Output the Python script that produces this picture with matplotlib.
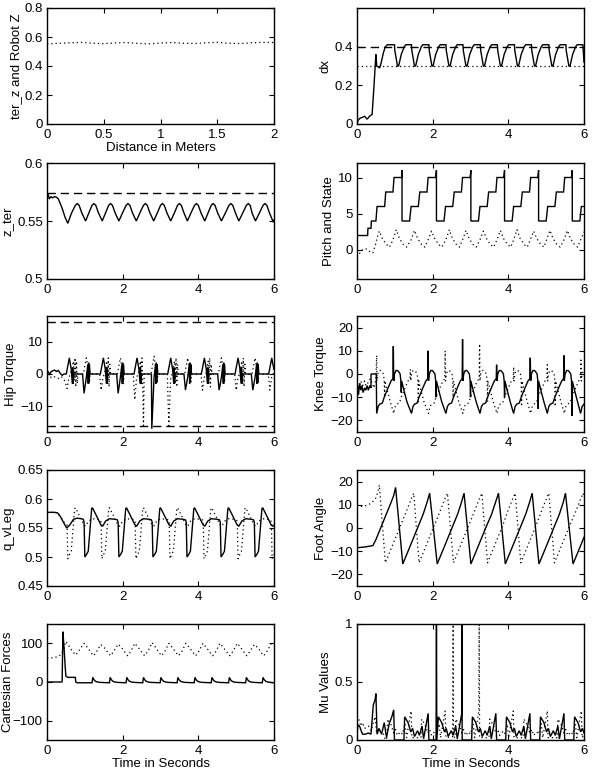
import matplotlib
matplotlib.use('Agg')
import matplotlib.pyplot as plt

plt.rcParams['font.family'] = ['Liberation Sans', 'DejaVu Sans']
plt.rcParams['font.size'] = 9.5

# ---------------- data ----------------
# Panel 1: ter_z and Robot Z vs distance
p1_x = [0.0, 0.1, 0.2, 0.3, 0.4, 0.5, 0.6, 0.7, 0.8, 0.9, 1.0, 1.1, 1.2, 1.3, 1.4, 1.5, 1.6, 1.7, 1.8, 1.9, 2.0]
p1_y = [0.553, 0.556, 0.560, 0.563, 0.557, 0.554, 0.559, 0.562, 0.556, 0.553, 0.558, 0.562, 0.557, 0.555,
        0.560, 0.563, 0.557, 0.555, 0.560, 0.563, 0.562]
p1_xticklabels = ['0', '0.5', '1', '1.5', '2']
p1_yticklabels = ['0', '0.2', '0.4', '0.6', '0.8']

# Panel 2: dx
dx_t = [0.00, 0.03, 0.08, 0.15, 0.20, 0.27, 0.33, 0.40, 0.45, 0.49, 0.50, 0.52, 0.60, 0.63, 0.70, 0.75, 0.80, 0.90,
        0.99, 1.00, 1.07, 1.10, 1.17, 1.25, 1.29,
        1.44, 1.45, 1.52, 1.55, 1.62, 1.70, 1.74,
        1.90, 1.91, 1.98, 2.01, 2.08, 2.16, 2.20,
        2.35, 2.36, 2.43, 2.46, 2.53, 2.61, 2.65,
        2.80, 2.81, 2.88, 2.91, 2.98, 3.06, 3.10,
        3.26, 3.27, 3.34, 3.37, 3.44, 3.52, 3.56,
        3.71, 3.72, 3.79, 3.82, 3.89, 3.97, 4.01,
        4.16, 4.17, 4.24, 4.27, 4.34, 4.42, 4.46,
        4.61, 4.62, 4.69, 4.72, 4.79, 4.87, 4.91,
        5.07, 5.08, 5.15, 5.18, 5.25, 5.33, 5.37,
        5.52, 5.53, 5.60, 5.63, 5.70, 5.78, 5.82,
        5.97, 5.98, 6.00]
dx_v = [0.00, 0.02, 0.03, 0.035, 0.04, 0.025, 0.04, 0.05, 0.20, 0.33, 0.36, 0.30, 0.29, 0.31, 0.37, 0.40, 0.41, 0.41,
        0.41, 0.38, 0.30, 0.30, 0.36, 0.40, 0.41,
        0.41, 0.38, 0.30, 0.30, 0.36, 0.40, 0.41,
        0.41, 0.38, 0.30, 0.30, 0.36, 0.40, 0.41,
        0.41, 0.38, 0.30, 0.30, 0.36, 0.40, 0.41,
        0.41, 0.38, 0.30, 0.30, 0.36, 0.40, 0.41,
        0.41, 0.38, 0.30, 0.30, 0.36, 0.40, 0.41,
        0.41, 0.38, 0.30, 0.30, 0.36, 0.40, 0.41,
        0.41, 0.38, 0.30, 0.30, 0.36, 0.40, 0.41,
        0.41, 0.38, 0.30, 0.30, 0.36, 0.40, 0.41,
        0.41, 0.38, 0.30, 0.30, 0.36, 0.40, 0.41,
        0.41, 0.38, 0.30, 0.30, 0.36, 0.40, 0.41,
        0.41, 0.38, 0.32]
dx_ref_hi = 0.4
dx_ref_lo = 0.3
dx_yticklabels = ['0', '0.2', '0.4']

# Panel 3: z_ter
zt_t = [0.00, 0.03, 0.06, 0.10, 0.15, 0.20, 0.25, 0.30, 0.40, 0.48, 0.55,
        0.65, 0.75, 0.80, 0.85, 0.92, 1.02,
        1.12, 1.19, 1.24, 1.29, 1.36, 1.46,
        1.56, 1.63, 1.68, 1.73, 1.80, 1.90,
        2.01, 2.09, 2.14, 2.19, 2.26, 2.36,
        2.47, 2.55, 2.60, 2.65, 2.72, 2.82,
        2.93, 3.00, 3.05, 3.10, 3.17, 3.27,
        3.38, 3.45, 3.50, 3.55, 3.62, 3.71,
        3.82, 3.90, 3.95, 4.00, 4.07, 4.17,
        4.27, 4.34, 4.39, 4.44, 4.51, 4.61,
        4.73, 4.81, 4.86, 4.91, 4.98, 5.07,
        5.19, 5.27, 5.32, 5.37, 5.42, 5.51,
        5.63, 5.71, 5.76, 5.81, 5.88, 5.98,
        6.00]
zt_v = [0.570, 0.573, 0.569, 0.571, 0.570, 0.571, 0.5705, 0.569, 0.561, 0.553, 0.548,
        0.557, 0.5635, 0.565, 0.5635, 0.557, 0.550,
        0.558, 0.5635, 0.565, 0.5635, 0.557, 0.550,
        0.558, 0.5635, 0.565, 0.5635, 0.557, 0.550,
        0.558, 0.5635, 0.565, 0.5635, 0.557, 0.550,
        0.558, 0.5635, 0.565, 0.5635, 0.557, 0.550,
        0.558, 0.5635, 0.565, 0.5635, 0.557, 0.550,
        0.558, 0.5635, 0.565, 0.5635, 0.557, 0.550,
        0.558, 0.5635, 0.565, 0.5635, 0.557, 0.550,
        0.558, 0.5635, 0.565, 0.5635, 0.557, 0.550,
        0.558, 0.5635, 0.565, 0.5635, 0.557, 0.550,
        0.558, 0.5635, 0.565, 0.5635, 0.557, 0.550,
        0.558, 0.5635, 0.565, 0.5635, 0.557, 0.549,
        0.551]
zt_ref = 0.574
zt_yticklabels = ['0.5', '0.55', '0.6']

# Panel 4: Pitch and State
st_t = [0.00, 0.28, 0.29, 0.37, 0.38, 0.50, 0.53, 0.73, 0.76, 0.95, 0.98, 1.18, 1.19, 1.19,
        1.39, 1.43, 1.62, 1.66, 1.85, 1.88, 2.08, 2.10, 2.10,
        2.30, 2.34, 2.53, 2.57, 2.76, 2.79, 2.99, 3.01, 3.01,
        3.21, 3.25, 3.44, 3.48, 3.67, 3.70, 3.88, 3.90, 3.90,
        4.10, 4.14, 4.33, 4.37, 4.56, 4.59, 4.78, 4.80, 4.80,
        5.00, 5.04, 5.23, 5.27, 5.46, 5.49, 5.67, 5.69, 5.69,
        5.89, 5.93, 6.00]
st_v = [2, 2, 3, 3, 4, 4, 6, 6, 8, 8, 10, 10, 11, 4,
        4, 6, 6, 8, 8, 10, 10, 11, 4,
        4, 6, 6, 8, 8, 10, 10, 11, 4,
        4, 6, 6, 8, 8, 10, 10, 11, 4,
        4, 6, 6, 8, 8, 10, 10, 11, 4,
        4, 6, 6, 8, 8, 10, 10, 11, 4,
        4, 6, 6]
pitch_t = [0.00, 0.05, 0.12, 0.20, 0.27, 0.35, 0.42, 0.48, 0.54, 0.59,
           0.67, 0.77, 0.86, 0.95, 1.04,
           1.12, 1.22, 1.31, 1.43, 1.52,
           1.60, 1.70, 1.79, 1.88, 1.97,
           2.05, 2.15, 2.24, 2.35, 2.44,
           2.52, 2.62, 2.71, 2.79, 2.88,
           2.96, 3.06, 3.15, 3.25, 3.34,
           3.42, 3.52, 3.61, 3.70, 3.79,
           3.87, 3.97, 4.06, 4.14, 4.23,
           4.31, 4.41, 4.50, 4.58, 4.67,
           4.75, 4.85, 4.94, 5.01, 5.10,
           5.18, 5.28, 5.37, 5.47, 5.56,
           5.64, 5.74, 5.83, 5.91, 6.00]
pitch_v = [-1.0, -0.6, -0.1, 0.2, 0.1, -0.3, -0.4, 0.6, 1.8, 2.6,
           1.6, 0.8, 0.4, 1.4, 2.8,
           1.6, 0.8, 0.4, 1.4, 2.7,
           1.6, 0.8, 0.4, 1.4, 2.6,
           1.6, 0.8, 0.4, 1.4, 2.8,
           1.6, 0.8, 0.4, 1.4, 2.7,
           1.6, 0.8, 0.4, 1.4, 2.6,
           1.6, 0.8, 0.4, 1.4, 2.7,
           1.6, 0.8, 0.4, 1.4, 2.8,
           1.6, 0.8, 0.4, 1.4, 2.6,
           1.6, 0.8, 0.4, 1.4, 2.7,
           1.6, 0.8, 0.4, 1.4, 2.7,
           1.6, 0.8, 0.4, 1.4, 2.5]

# Panel 5: Hip Torque
hip_t = [0.00, 0.03, 0.07, 0.10, 0.15, 0.20, 0.25, 0.30, 0.35, 0.40, 0.45, 0.51,
         0.59, 0.64, 0.67, 0.68, 0.69, 0.71, 0.94, 0.98, 1.04, 1.08, 1.09, 1.10, 1.11, 1.12, 1.14, 1.41,
         1.49, 1.54, 1.57, 1.58, 1.59, 1.61, 1.84, 1.88, 1.94, 1.98, 1.99, 2.00, 2.01, 2.02, 2.04, 2.30,
         2.38, 2.43, 2.46, 2.47, 2.48, 2.50, 2.76, 2.77, 2.83, 2.87, 2.88, 2.89, 2.90, 2.91, 2.93, 3.19,
         3.27, 3.32, 3.35, 3.36, 3.37, 3.39, 3.62, 3.66, 3.72, 3.76, 3.77, 3.78, 3.79, 3.80, 3.82, 4.08,
         4.16, 4.21, 4.24, 4.25, 4.26, 4.28, 4.51, 4.55, 4.61, 4.65, 4.66, 4.67, 4.68, 4.69, 4.71, 4.97,
         5.05, 5.10, 5.13, 5.14, 5.15, 5.17, 5.40, 5.44, 5.50, 5.54, 5.55, 5.56, 5.57, 5.58, 5.60, 5.86,
         5.94, 5.97, 6.00]
hip_v = [0.0, 0.8, -0.3, 0.6, 1.0, 1.2, 0.8, 1.1, 0.2, -0.4, 0.0, 0.0,
         5, 1.5, -3, 2, -3, 0, 0, -6, -1, 3, -3, 3.5, -2.5, 3, 0, 0,
         5, 1.5, -3, 2, -3, 0, 0, -6, -1, 3, -3, 3.5, -2.5, 3, 0, 0,
         5, 1.5, -3, 2, -3, 0, 0, -17, -1, 3, -3, 3.5, -2.5, 3, 0, 0,
         5, 1.5, -3, 2, -3, 0, 0, -5, -1, 3, -3, 3.5, -2.5, 3, 0, 0,
         5, 1.5, -3, 2, -3, 0, 0, -5, -1, 3, -3, 3.5, -2.5, 3, 0, 0,
         5, 1.5, -3, 2, -3, 0, 0, -5, -1, 3, -3, 3.5, -2.5, 3, 0, 0,
         5, 3, 1.5]
hipd_t = [0.00, 0.08, 0.15, 0.22, 0.30, 0.38, 0.44, 0.48, 0.53, 0.58, 0.62, 0.70, 0.72, 0.74, 0.76, 0.78, 0.80, 0.82,
          0.96, 1.04, 1.09, 1.12, 1.14, 1.39, 1.43, 1.48, 1.52, 1.58, 1.60, 1.62, 1.64, 1.66, 1.68,
          1.86, 1.94, 1.99, 2.02, 2.04, 2.28, 2.32, 2.37, 2.41, 2.47, 2.49, 2.51, 2.53, 2.55, 2.57,
          2.75, 2.83, 2.88, 2.91, 2.93, 3.18, 3.22, 3.27, 3.31, 3.37, 3.39, 3.41, 3.43, 3.45, 3.47,
          3.64, 3.72, 3.77, 3.80, 3.82, 4.07, 4.11, 4.16, 4.20, 4.26, 4.28, 4.30, 4.32, 4.34, 4.36,
          4.53, 4.61, 4.66, 4.69, 4.71, 4.96, 5.00, 5.05, 5.09, 5.15, 5.17, 5.19, 5.21, 5.23, 5.25,
          5.42, 5.50, 5.55, 5.58, 5.60, 5.85, 5.89, 5.94, 5.98, 6.00]
hipd_v = [-0.5, -1.2, -0.6, -1.0, -1.4, -0.8, -1.5, -2.5, -4.5, -1.0, 0.0, 4.0, -2.0, 5.0, -4.0, 4.0, -3.0, 0.0,
          0, 5, 1.5, -3, 0, 0, -5, -1, 0, 4, -3, 5, -4, 3, 0,
          0, 5, 1.5, -3, 0, 0, -8, -1, 0, 4, -3, 5, -4, -16, 0,
          0, 5.5, 1.5, -3, 0, 0, -16, -1, 0, 4, -3, 5, -4, 3, 0,
          0, 5, 1.5, -3, 0, 0, -5, -1, 0, 4, -3, 5, -4, 3, 0,
          0, 5, 1.5, -3, 0, 0, -5, -1, 0, 4, -3, 5, -4, 3, 0,
          0, 5, 1.5, -3, 0, 0, -5, -1, 0, 2]
hip_limit = 16
signed_ticklabels_10 = ['\u221210', '0', '10']

# Panel 6: Knee Torque
kn_t = [0.00, 0.02, 0.04, 0.07, 0.10, 0.13, 0.16, 0.20, 0.23, 0.27, 0.30, 0.34, 0.37, 0.371, 0.51, 0.52,
        0.56, 0.60, 0.67, 0.72, 0.82, 0.90, 0.95, 0.96, 0.97, 0.99, 1.03, 1.07, 1.10, 1.14, 1.16, 1.17, 1.18, 1.24, 1.32, 1.44,
        1.48, 1.52, 1.59, 1.64, 1.74, 1.82, 1.87, 1.88, 1.89, 1.91, 1.95, 1.99, 2.02, 2.06, 2.08, 2.09, 2.10, 2.16, 2.24, 2.35,
        2.39, 2.43, 2.50, 2.55, 2.65, 2.73, 2.78, 2.79, 2.80, 2.82, 2.86, 2.90, 2.93, 2.97, 2.99, 3.00, 3.01, 3.07, 3.15, 3.25,
        3.29, 3.33, 3.40, 3.45, 3.55, 3.63, 3.68, 3.69, 3.70, 3.72, 3.76, 3.80, 3.83, 3.87, 3.89, 3.90, 3.91, 3.97, 4.05, 4.14,
        4.18, 4.22, 4.29, 4.34, 4.44, 4.52, 4.57, 4.58, 4.59, 4.61, 4.65, 4.69, 4.72, 4.76, 4.78, 4.79, 4.80, 4.86, 4.94, 5.03,
        5.07, 5.11, 5.18, 5.23, 5.33, 5.41, 5.46, 5.47, 5.48, 5.50, 5.54, 5.58, 5.61, 5.65, 5.67, 5.68, 5.69, 5.75, 5.83, 5.91,
        5.95, 6.00]
kn_v = [-10, -5, -9, -4, -7, -5, -8, -6, -7, -5, -7, -5, -6, 0, 0, -17,
        -14, -13, -12.5, -10, -6, -3, -2, 12, -3, 0, 1.5, 1.5, 1, 0, -3, -8, -3, -7, -12, -17,
        -14, -13, -12.5, -10, -6, -3, -2, 10, -3, 0, 1.5, 1.5, 1, 0, -3, -10, -3, -7, -12, -17,
        -14, -13, -12.5, -10, -6, -3, -2, 15, -3, 0, 1.5, 1.5, 1, 0, -3, -10, -3, -7, -12, -17,
        -14, -13, -12.5, -10, -6, -3, -2, 4, -3, 0, 1.5, 1.5, 1, 0, -3, -10, -3, -7, -12, -17,
        -14, -13, -12.5, -10, -6, -3, -2, 7, -3, 0, 1.5, 1.5, 1, 0, -3, -15, -3, -7, -12, -17,
        -14, -13, -12.5, -10, -6, -3, -2, 8, -3, 0, 1.5, 1.5, 1, 0, -3, -18, -3, -7, -12, -17,
        -14, -13]
knd_t = [0.00, 0.05, 0.10, 0.15, 0.20, 0.25, 0.30, 0.35, 0.40, 0.45, 0.50, 0.52, 0.53, 0.55, 0.59, 0.63, 0.66, 0.70,
         0.72, 0.73, 0.74, 0.80, 0.88, 0.97,
         1.01, 1.05, 1.12, 1.17, 1.27, 1.35, 1.40, 1.41, 1.42, 1.44, 1.48, 1.52, 1.55, 1.59, 1.61, 1.62, 1.63, 1.69, 1.77, 1.89,
         1.93, 1.97, 2.04, 2.09, 2.19, 2.27, 2.32, 2.33, 2.34, 2.36, 2.40, 2.44, 2.47, 2.51, 2.53, 2.54, 2.55, 2.61, 2.69, 2.80,
         2.84, 2.88, 2.95, 3.00, 3.10, 3.18, 3.23, 3.24, 3.25, 3.27, 3.31, 3.35, 3.38, 3.42, 3.44, 3.45, 3.46, 3.52, 3.60, 3.70,
         3.74, 3.78, 3.85, 3.90, 4.00, 4.08, 4.13, 4.14, 4.15, 4.17, 4.21, 4.25, 4.28, 4.32, 4.34, 4.35, 4.36, 4.42, 4.50, 4.59,
         4.63, 4.67, 4.74, 4.79, 4.89, 4.97, 5.02, 5.03, 5.04, 5.06, 5.10, 5.14, 5.17, 5.21, 5.23, 5.24, 5.25, 5.31, 5.39, 5.48,
         5.52, 5.56, 5.63, 5.68, 5.78, 5.86, 5.91, 5.92, 5.93, 5.95, 5.99, 6.00]
knd_v = [-8, -6, -3, -5, -3, -6, -3, -2, -4, -6, -2, 8, -3, 0, 1.5, 1.5, 1, 0,
         -3, -10, -3, -7, -12, -17,
         -14, -13, -12.5, -10, -6, -3, -2, 2, -3, 0, 1.5, 1.5, 1, 0, -3, -12, -3, -7, -12, -17,
         -14, -13, -12.5, -10, -6, -3, -2, 10, -3, 0, 1.5, 1.5, 1, 0, -3, -10, -3, -7, -12, -17,
         -14, -13, -12.5, -10, -6, -3, -2, 13, -3, 0, 1.5, 1.5, 1, 0, -3, -12, -3, -7, -12, -17,
         -14, -13, -12.5, -10, -6, -3, -2, 3, -3, 0, 1.5, 1.5, 1, 0, -3, -14, -3, -7, -12, -17,
         -14, -13, -12.5, -10, -6, -3, -2, 4, -3, 0, 1.5, 1.5, 1, 0, -3, -14, -3, -7, -12, -17,
         -14, -13, -12.5, -10, -6, -3, -2, 6, -3, 0, 1.5, 1.5]
signed_ticklabels_20 = ['\u221220', '\u221210', '0', '10', '20']

# Panel 7: q_vLeg
q_t = [0.00, 0.10, 0.20, 0.28, 0.35, 0.45, 0.52, 0.60, 0.70, 0.80, 0.90, 0.96, 0.98, 1.00,
       1.05, 1.09, 1.14, 1.18, 1.20, 1.30, 1.42, 1.47, 1.55, 1.65, 1.80, 1.86, 1.88, 1.90,
       1.95, 1.99, 2.04, 2.08, 2.10, 2.20, 2.32, 2.37, 2.45, 2.55, 2.70, 2.76, 2.78, 2.80,
       2.85, 2.89, 2.94, 2.98, 3.00, 3.10, 3.22, 3.27, 3.35, 3.45, 3.60, 3.66, 3.68, 3.70,
       3.75, 3.79, 3.84, 3.88, 3.90, 4.00, 4.12, 4.17, 4.25, 4.35, 4.50, 4.56, 4.58, 4.60,
       4.65, 4.69, 4.74, 4.78, 4.80, 4.90, 5.02, 5.07, 5.15, 5.25, 5.40, 5.46, 5.48, 5.50,
       5.55, 5.59, 5.64, 5.68, 5.70, 5.80, 5.92, 5.97, 6.00]
q_v = [0.577, 0.577, 0.577, 0.576, 0.570, 0.558, 0.550, 0.555, 0.565, 0.567, 0.566, 0.565, 0.560, 0.500,
       0.505, 0.510, 0.550, 0.583, 0.585, 0.572, 0.556, 0.553, 0.562, 0.566, 0.565, 0.564, 0.560, 0.500,
       0.505, 0.510, 0.550, 0.583, 0.585, 0.572, 0.556, 0.553, 0.562, 0.566, 0.565, 0.564, 0.560, 0.500,
       0.505, 0.510, 0.550, 0.583, 0.585, 0.572, 0.556, 0.553, 0.562, 0.566, 0.565, 0.564, 0.560, 0.500,
       0.505, 0.510, 0.550, 0.583, 0.585, 0.572, 0.556, 0.553, 0.562, 0.566, 0.565, 0.564, 0.560, 0.500,
       0.505, 0.510, 0.550, 0.583, 0.585, 0.572, 0.556, 0.553, 0.562, 0.566, 0.565, 0.564, 0.560, 0.500,
       0.505, 0.510, 0.550, 0.583, 0.585, 0.572, 0.556, 0.553, 0.555]
qd_t = [0.00, 0.10, 0.20, 0.28, 0.35, 0.45, 0.50, 0.53, 0.55,
        0.60, 0.64, 0.69, 0.73, 0.75, 0.85, 0.97, 1.02, 1.10, 1.20, 1.35, 1.41, 1.43, 1.45,
        1.50, 1.54, 1.59, 1.63, 1.65, 1.75, 1.87, 1.92, 2.00, 2.10, 2.25, 2.31, 2.33, 2.35,
        2.40, 2.44, 2.49, 2.53, 2.55, 2.65, 2.77, 2.82, 2.90, 3.00, 3.15, 3.21, 3.23, 3.25,
        3.30, 3.34, 3.39, 3.43, 3.45, 3.55, 3.67, 3.72, 3.80, 3.90, 4.05, 4.11, 4.13, 4.15,
        4.20, 4.24, 4.29, 4.33, 4.35, 4.45, 4.57, 4.62, 4.70, 4.80, 4.95, 5.01, 5.03, 5.05,
        5.10, 5.14, 5.19, 5.23, 5.25, 5.35, 5.47, 5.52, 5.60, 5.70, 5.85, 5.91, 5.93, 5.95,
        6.00]
qd_v = [0.577, 0.577, 0.577, 0.576, 0.570, 0.560, 0.557, 0.555, 0.497,
        0.505, 0.510, 0.550, 0.583, 0.585, 0.572, 0.556, 0.553, 0.562, 0.566, 0.565, 0.564, 0.560, 0.497,
        0.505, 0.510, 0.550, 0.583, 0.585, 0.572, 0.556, 0.553, 0.562, 0.566, 0.565, 0.564, 0.560, 0.497,
        0.505, 0.510, 0.550, 0.583, 0.585, 0.572, 0.556, 0.553, 0.562, 0.566, 0.565, 0.564, 0.560, 0.497,
        0.505, 0.510, 0.550, 0.583, 0.585, 0.572, 0.556, 0.553, 0.562, 0.566, 0.565, 0.564, 0.560, 0.497,
        0.505, 0.510, 0.550, 0.583, 0.585, 0.572, 0.556, 0.553, 0.562, 0.566, 0.565, 0.564, 0.560, 0.497,
        0.505, 0.510, 0.550, 0.583, 0.585, 0.572, 0.556, 0.553, 0.562, 0.566, 0.565, 0.564, 0.560, 0.497,
        0.505]
q_yticklabels = ['0.45', '0.5', '0.55', '0.6', '0.65']

# Panel 8: Foot Angle
ft_t = [0.00, 0.20, 0.42, 0.50, 0.60, 0.70, 0.80, 0.90, 0.97, 1.02, 1.21,
        1.40, 1.60, 1.75, 1.85, 1.92, 2.12,
        2.31, 2.51, 2.66, 2.76, 2.83, 3.01,
        3.20, 3.40, 3.56, 3.66, 3.74, 3.92,
        4.11, 4.31, 4.46, 4.56, 4.63, 4.81,
        5.00, 5.20, 5.35, 5.45, 5.51, 5.71,
        5.85, 6.00]
ft_v = [-8.5, -8.2, -7.6, -5, -1, 3, 7, 11, 14, 17.5, -15.5,
        -8, 0, 6, 11, 15, -15.5,
        -8, 0, 6, 11, 15, -15.5,
        -8, 0, 6, 11, 15, -15.5,
        -8, 0, 6, 11, 15, -15.5,
        -8, 0, 6, 11, 15, -15.5,
        -10, -4]
ftd_t = [0.00, 0.10, 0.20, 0.30, 0.40, 0.50, 0.55, 0.59, 0.75,
         0.95, 1.15, 1.30, 1.42, 1.50, 1.64,
         1.84, 2.04, 2.19, 2.31, 2.39, 2.55,
         2.75, 2.95, 3.10, 3.22, 3.30, 3.45,
         3.65, 3.85, 3.98, 4.10, 4.18, 4.33,
         4.53, 4.73, 4.87, 4.99, 5.07, 5.22,
         5.42, 5.62, 5.78, 5.90, 5.98, 6.00]
ftd_v = [10, 9.3, 9.5, 10, 11, 13, 15.5, 18.5, -15,
         -7, 1, 7, 12, 15, -15,
         -7, 1, 7, 12, 15, -15,
         -7, 1, 7, 12, 15, -15,
         -7, 1, 7, 12, 15, -15,
         -7, 1, 7, 12, 15, -15,
         -7, 1, 7, 12, 15, 13]

# Panel 9: Cartesian Forces
cf_t = [0.00, 0.40, 0.42, 0.45, 0.48, 0.50, 0.55, 0.75, 0.76, 0.80,
        1.19, 1.21, 1.24, 1.28, 1.33, 1.40,
        1.65, 1.67, 1.70, 1.74, 1.79, 1.86,
        2.09, 2.11, 2.14, 2.18, 2.23, 2.30,
        2.53, 2.55, 2.58, 2.62, 2.67, 2.74,
        2.99, 3.01, 3.04, 3.08, 3.13, 3.20,
        3.44, 3.46, 3.49, 3.53, 3.58, 3.65,
        3.89, 3.91, 3.94, 3.98, 4.03, 4.10,
        4.34, 4.36, 4.39, 4.43, 4.48, 4.55,
        4.80, 4.82, 4.85, 4.89, 4.94, 5.01,
        5.25, 5.27, 5.30, 5.34, 5.39, 5.46,
        5.69, 5.71, 5.74, 5.78, 5.83, 5.90, 6.00]
cf_v = [0, 0, 130, 90, 40, 15, 12, 12, 0, -2,
        -2, 12, 6, 2, 0, -1,
        -2, 12, 6, 2, 0, -1,
        -2, 12, 6, 2, 0, -1,
        -2, 12, 6, 2, 0, -1,
        -2, 12, 6, 2, 0, -1,
        -2, 12, 6, 2, 0, -1,
        -2, 12, 6, 2, 0, -1,
        -2, 12, 6, 2, 0, -1,
        -2, 12, 6, 2, 0, -1,
        -2, 12, 6, 2, 0, -1,
        -2, 12, 6, 2, 0, -1, -2]
cfd_t = [0.00, 0.10, 0.20, 0.30, 0.38, 0.44, 0.50,
         0.60, 0.70, 0.76, 0.85, 0.98,
         1.08, 1.17, 1.23, 1.32, 1.42,
         1.52, 1.62, 1.68, 1.77, 1.88,
         1.98, 2.07, 2.13, 2.22, 2.32,
         2.42, 2.52, 2.58, 2.67, 2.78,
         2.88, 2.97, 3.03, 3.12, 3.22,
         3.32, 3.42, 3.48, 3.57, 3.67,
         3.77, 3.87, 3.93, 4.02, 4.12,
         4.22, 4.32, 4.38, 4.47, 4.57,
         4.67, 4.77, 4.83, 4.92, 5.03,
         5.13, 5.22, 5.28, 5.37, 5.48,
         5.58, 5.67, 5.73, 5.82, 5.93, 6.00]
cfd_v = [62, 62, 63, 66, 72, 85, 105,
         90, 76, 70, 82, 100,
         88, 75, 68, 80, 97,
         88, 75, 68, 80, 98,
         88, 75, 68, 80, 100,
         88, 75, 68, 80, 102,
         88, 75, 68, 80, 100,
         88, 75, 68, 80, 100,
         88, 75, 68, 80, 100,
         88, 75, 68, 80, 100,
         88, 75, 68, 80, 100,
         88, 75, 68, 80, 97,
         88, 75, 68, 80, 100, 96]
cf_yticklabels = ['\u2212100', '0', '100']

# Panel 10: Mu Values
mu_t = [0.00, 0.02, 0.04, 0.08, 0.12, 0.15, 0.22, 0.30, 0.37, 0.43, 0.48, 0.50, 0.53, 0.58, 0.65, 0.72, 0.78,
        0.85, 0.92, 0.97, 0.99,
        1.24, 1.26, 1.35, 1.42, 1.47, 1.52, 1.60, 1.65, 1.72, 1.76, 1.81, 1.88, 1.90,
        2.09, 2.10, 2.11, 2.15, 2.24, 2.31, 2.36, 2.41, 2.49, 2.54, 2.61, 2.65, 2.70, 2.77, 2.772, 2.78,
        3.03, 3.05, 3.14, 3.21, 3.26, 3.31, 3.39, 3.44, 3.51, 3.55, 3.60, 3.67, 3.69,
        3.93, 3.95, 4.04, 4.11, 4.16, 4.21, 4.29, 4.34, 4.41, 4.45, 4.50, 4.57, 4.59,
        4.83, 4.85, 4.94, 5.01, 5.06, 5.11, 5.19, 5.24, 5.31, 5.35, 5.40, 5.47, 5.49,
        5.73, 5.75, 5.84, 5.91, 5.96, 6.00]
mu_v = [0.02, 0.12, 0.13, 0.11, 0.07, 0.05, 0.05, 0.06, 0.05, 0.30, 0.35, 0.40, 0.05, 0.10, 0.05, 0.15, 0.02,
        0.14, 0.20, 0.26, 0.00,
        0.00, 0.20, 0.15, 0.07, 0.10, 0.03, 0.08, 0.04, 0.12, 0.01, 0.10, 0.23, 0.00,
        0.00, 1.05, 0.00, 0.20, 0.15, 0.07, 0.10, 0.03, 0.08, 0.04, 0.12, 0.01, 0.10, 0.23, 1.05, 0.00,
        0.00, 0.20, 0.15, 0.07, 0.10, 0.03, 0.08, 0.04, 0.12, 0.01, 0.10, 0.23, 0.00,
        0.00, 0.20, 0.15, 0.07, 0.10, 0.03, 0.08, 0.04, 0.12, 0.01, 0.10, 0.23, 0.00,
        0.00, 0.20, 0.15, 0.07, 0.10, 0.03, 0.08, 0.04, 0.12, 0.01, 0.10, 0.23, 0.00,
        0.00, 0.20, 0.15, 0.07, 0.10, 0.06]
mud_t = [0.00, 0.05, 0.10, 0.15, 0.20, 0.30, 0.38, 0.43, 0.48, 0.52, 0.60, 0.70, 0.75,
         0.79, 0.81, 0.90, 0.97, 1.02, 1.07, 1.15, 1.20, 1.27, 1.31, 1.36, 1.43, 1.45,
         1.69, 1.71, 1.80, 1.87, 1.92, 1.97, 2.05, 2.10, 2.17, 2.21, 2.26, 2.33, 2.35, 2.53, 2.54, 2.55,
         2.59, 2.61, 2.70, 2.77, 2.82, 2.87, 2.95, 3.00, 3.07, 3.11, 3.16, 3.22, 3.23, 3.24,
         3.49, 3.51, 3.60, 3.67, 3.72, 3.77, 3.85, 3.90, 3.97, 4.01, 4.06, 4.13, 4.15,
         4.39, 4.41, 4.50, 4.57, 4.62, 4.67, 4.75, 4.80, 4.87, 4.91, 4.96, 5.03, 5.05,
         5.29, 5.31, 5.40, 5.47, 5.52, 5.57, 5.65, 5.70, 5.77, 5.81, 5.86, 5.93, 5.95, 6.00]
mud_v = [0.15, 0.18, 0.12, 0.15, 0.10, 0.12, 0.08, 0.15, 0.20, 0.05, 0.08, 0.05, 0.00,
         0.02, 0.18, 0.13, 0.06, 0.09, 0.04, 0.07, 0.05, 0.14, 0.02, 0.12, 0.25, 0.02,
         0.02, 0.18, 0.13, 0.06, 0.09, 0.04, 0.07, 0.05, 0.14, 0.02, 0.12, 0.25, 0.02, 0.03, 1.05, 0.03,
         0.02, 0.18, 0.13, 0.06, 0.09, 0.04, 0.07, 0.05, 0.14, 0.02, 0.12, 0.25, 1.05, 0.02,
         0.02, 0.18, 0.13, 0.06, 0.09, 0.04, 0.07, 0.05, 0.14, 0.02, 0.12, 0.25, 0.02,
         0.02, 0.18, 0.13, 0.06, 0.09, 0.04, 0.07, 0.05, 0.14, 0.02, 0.12, 0.25, 0.02,
         0.02, 0.18, 0.13, 0.06, 0.09, 0.04, 0.07, 0.05, 0.14, 0.02, 0.12, 0.25, 0.02, 0.05]
mu_yticklabels = ['0', '0.5', '1']

time_ticks = [0, 2, 4, 6]
time_ticklabels = ['0', '2', '4', '6']

# ---------------- figure ----------------
W, H = 600, 777
fig = plt.figure(figsize=(W / 100, H / 100), dpi=100)
fig.patch.set_facecolor('white')

LEFT_X, RIGHT_X, AX_W, AX_H = 47, 357, 227, 116
ROW_TOP = [8, 163, 316, 470, 624]

SOLID = dict(color='black', lw=1.0, solid_joinstyle='miter')
DOT = dict(color='black', lw=0.9, linestyle=(0, (1, 2.4)))
DASH = dict(color='black', lw=1.0, linestyle=(0, (6, 3.5)))


def make_ax(x0, top):
    return fig.add_axes([x0 / W, 1 - (top + AX_H) / H, AX_W / W, AX_H / H])


def style(ax, xlim, ylim, xticks, xticklabels, yticks, yticklabels, ylabel, xlabel=None):
    ax.set_xlim(xlim)
    ax.set_ylim(ylim)
    ax.set_xticks(xticks)
    ax.set_xticklabels(xticklabels)
    ax.set_yticks(yticks)
    ax.set_yticklabels(yticklabels)
    ax.tick_params(direction='in', top=True, right=True, length=3.5, width=0.8, labelsize=9.5)
    ax.tick_params(axis='x', pad=3.5)
    ax.tick_params(axis='y', pad=3)
    for s in ax.spines.values():
        s.set_linewidth(1.0)
    ax.set_ylabel(ylabel, fontsize=9.5, labelpad=2)
    if xlabel:
        ax.set_xlabel(xlabel, fontsize=9.5, labelpad=1)


# Row 1
ax = make_ax(LEFT_X, ROW_TOP[0])
ax.plot(p1_x, p1_y, **DOT)
style(ax, (0, 2), (0, 0.8), [0, 0.5, 1, 1.5, 2], p1_xticklabels, [0, 0.2, 0.4, 0.6, 0.8], p1_yticklabels,
      'ter_z and Robot Z', 'Distance in Meters')

ax = make_ax(RIGHT_X, ROW_TOP[0])
ax.plot([0, 6], [dx_ref_hi, dx_ref_hi], **DASH)
ax.plot([0, 6], [dx_ref_lo, dx_ref_lo], **DOT)
ax.plot(dx_t, dx_v, **SOLID)
style(ax, (0, 6), (0, 0.6), time_ticks, time_ticklabels, [0, 0.2, 0.4], dx_yticklabels, 'dx')

# Row 2
ax = make_ax(LEFT_X, ROW_TOP[1])
ax.plot([0, 6], [zt_ref, zt_ref], **DASH)
ax.plot(zt_t, zt_v, **SOLID)
style(ax, (0, 6), (0.5, 0.6), time_ticks, time_ticklabels, [0.5, 0.55, 0.6], zt_yticklabels, 'z_ter')

ax = make_ax(RIGHT_X, ROW_TOP[1])
ax.plot(pitch_t, pitch_v, **DOT)
ax.plot(st_t, st_v, **SOLID)
style(ax, (0, 6), (-4, 12), time_ticks, time_ticklabels, [0, 5, 10], ['0', '5', '10'], 'Pitch and State')

# Row 3
ax = make_ax(LEFT_X, ROW_TOP[2])
ax.plot([0, 6], [hip_limit, hip_limit], **DASH)
ax.plot([0, 6], [-hip_limit, -hip_limit], **DASH)
ax.plot(hipd_t, hipd_v, **DOT)
ax.plot(hip_t, hip_v, **SOLID)
style(ax, (0, 6), (-18, 18), time_ticks, time_ticklabels, [-10, 0, 10], signed_ticklabels_10, 'Hip Torque')

ax = make_ax(RIGHT_X, ROW_TOP[2])
ax.plot(knd_t, knd_v, **DOT)
ax.plot(kn_t, kn_v, **SOLID)
style(ax, (0, 6), (-25, 25), time_ticks, time_ticklabels, [-20, -10, 0, 10, 20], signed_ticklabels_20, 'Knee Torque')

# Row 4
ax = make_ax(LEFT_X, ROW_TOP[3])
ax.plot(qd_t, qd_v, **DOT)
ax.plot(q_t, q_v, **SOLID)
style(ax, (0, 6), (0.45, 0.65), time_ticks, time_ticklabels, [0.45, 0.5, 0.55, 0.6, 0.65], q_yticklabels, 'q_vLeg')

ax = make_ax(RIGHT_X, ROW_TOP[3])
ax.plot(ftd_t, ftd_v, **DOT)
ax.plot(ft_t, ft_v, **SOLID)
style(ax, (0, 6), (-25, 25), time_ticks, time_ticklabels, [-20, -10, 0, 10, 20], signed_ticklabels_20, 'Foot Angle')

# Row 5
ax = make_ax(LEFT_X, ROW_TOP[4])
ax.plot(cfd_t, cfd_v, **DOT)
ax.plot(cf_t, cf_v, **SOLID)
style(ax, (0, 6), (-150, 150), time_ticks, time_ticklabels, [-100, 0, 100], cf_yticklabels, 'Cartesian Forces',
      'Time in Seconds')
# ylabel anchor is the right edge of the rotated text: keep the whole label inside the figure
ax.yaxis.set_label_coords(-0.145, 0.5)

ax = make_ax(RIGHT_X, ROW_TOP[4])
ax.plot(mud_t, mud_v, **DOT)
ax.plot(mu_t, mu_v, **SOLID)
style(ax, (0, 6), (0, 1), time_ticks, time_ticklabels, [0, 0.5, 1], mu_yticklabels, 'Mu Values', 'Time in Seconds')

fig.savefig('out.png', dpi=100, facecolor='white')
